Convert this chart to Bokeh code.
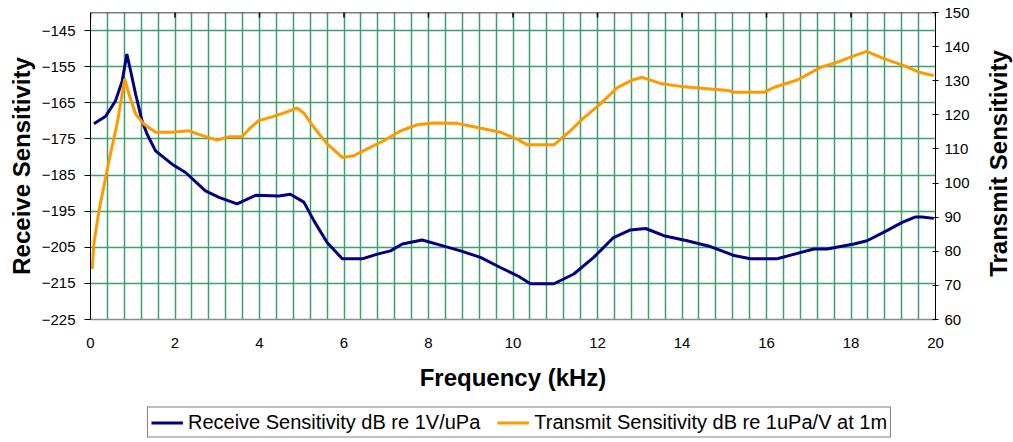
import math
from bokeh.plotting import figure
from bokeh.layouts import column, row
from bokeh.models import (Range1d, LinearAxis, FixedTicker, SingleIntervalTicker,
                          Legend, LegendItem, Label, Span)
from bokeh.embed import file_html
from bokeh.resources import INLINE

# ---- data ----
freq_rx = [0.08, 0.36, 0.59, 0.75, 0.86, 0.95, 1.07, 1.22, 1.34, 1.54, 1.93, 2.25,
           2.72, 3.04, 3.47, 3.91, 4.46, 4.73, 5.05, 5.29, 5.6, 5.96, 6.43, 6.79,
           7.1, 7.38, 7.85, 8.28, 8.76, 9.23, 9.7, 10.14, 10.41, 10.97, 11.44, 11.91,
           12.38, 12.78, 13.14, 13.57, 14.12, 14.67, 15.1, 15.23, 15.62, 16.25, 16.73,
           17.12, 17.43, 18.07, 18.38, 18.85, 19.21, 19.53, 19.68, 19.96]
rx_db = [-170.8, -168.7, -164.5, -159.0, -151.5, -156.2, -162.7, -170.0, -173.7, -178.3,
         -182.0, -184.3, -189.4, -191.2, -193.0, -190.6, -190.8, -190.3, -192.5, -197.7,
         -203.7, -208.2, -208.2, -206.9, -206.0, -204.1, -203.0, -204.4, -206.0, -207.8,
         -210.6, -213.1, -215.1, -215.1, -212.4, -207.8, -202.3, -200.2, -199.8, -201.8,
         -203.2, -204.8, -206.7, -207.3, -208.2, -208.2, -206.7, -205.5, -205.5, -204.1,
         -203.2, -200.4, -198.1, -196.6, -196.6, -197.0]

freq_tx = [0.04, 0.08, 0.2, 0.36, 0.47, 0.63, 0.75, 0.81, 0.91, 1.07, 1.26, 1.54, 1.93,
           2.33, 2.65, 3.0, 3.28, 3.59, 3.75, 3.98, 4.3, 4.62, 4.89, 5.05, 5.29, 5.6,
           5.96, 6.23, 6.55, 6.94, 7.34, 7.73, 8.12, 8.68, 9.07, 9.7, 10.14, 10.34, 10.97,
           11.32, 11.68, 12.07, 12.47, 12.82, 13.06, 13.49, 14.04, 14.52, 15.1, 15.23,
           15.94, 16.17, 16.73, 17.28, 17.67, 18.07, 18.37, 18.78, 19.25, 19.64, 19.96]
tx_db = [74.8, 82.2, 91.9, 101.7, 108.5, 117.3, 126.1, 130.5, 126.1, 120.2, 117.3, 114.9,
         114.9, 115.3, 113.9, 112.6, 113.6, 113.6, 115.8, 118.3, 119.4, 120.7, 122.0, 120.5,
         116.3, 111.5, 107.5, 108.0, 110.0, 112.4, 115.3, 117.1, 117.6, 117.5, 116.5, 114.9,
         112.6, 111.2, 111.2, 114.9, 119.2, 123.2, 128.0, 130.2, 131.0, 129.2, 128.2, 127.7,
         127.1, 126.6, 126.6, 128.0, 130.2, 133.9, 135.4, 137.3, 138.6, 136.5, 134.4, 132.4,
         131.5]

x_ticks = [0, 2, 4, 6, 8, 10, 12, 14, 16, 18, 20]
left_ticks = [-225, -215, -205, -195, -185, -175, -165, -155, -145]
right_ticks = [60, 70, 80, 90, 100, 110, 120, 130, 140, 150]

rx_label = "Receive Sensitivity dB re 1V/uPa"
tx_label = "Transmit Sensitivity dB re 1uPa/V at 1m"
x_title = "Frequency (kHz)"
left_title = "Receive Sensitivity"
right_title = "Transmit Sensitivity"

RX_COLOR = "#000080"
TX_COLOR = "#FF9900"
FONT = "Liberation Sans"
W_TOTAL, W_MAIN, H1, H2 = 1013, 975, 402, 40
FL, FR, FT, FB = 90, 935, 12, 319
LEFT_MIN, LEFT_MAX = -225, -140


def blank(fig):
    fig.outline_line_color = None
    fig.grid.grid_line_color = None
    fig.background_fill_color = "white"
    fig.border_fill_color = "white"


p = figure(width=W_MAIN, height=H1, output_backend="svg", toolbar_location=None,
           x_range=Range1d(0, 20), y_range=Range1d(LEFT_MIN, LEFT_MAX),
           min_border_left=FL, min_border_right=W_MAIN - FR,
           min_border_top=FT, min_border_bottom=H1 - FB)
p.outline_line_color = None
p.background_fill_color = "white"
p.border_fill_color = "white"
p.extra_y_ranges = {"tx": Range1d(60, 150)}

# grids
GRID = "#3f9f6e"
p.xgrid.ticker = SingleIntervalTicker(interval=0.4)
p.xgrid.grid_line_color = GRID
p.xgrid.grid_line_width = 1.5
p.ygrid.ticker = FixedTicker(ticks=left_ticks)
p.ygrid.grid_line_color = GRID
p.ygrid.grid_line_width = 1.5

# bottom axis
xa = p.xaxis[0]
xa.ticker = FixedTicker(ticks=x_ticks)
xa.axis_line_color = "#8c8c8c"
xa.axis_line_width = 1.5
xa.major_tick_out = 0
xa.major_tick_in = 0
xa.minor_tick_out = 0
xa.minor_tick_in = 0
xa.major_label_standoff = 18
xa.major_label_text_font = FONT
xa.major_label_text_font_size = "15px"
xa.major_label_text_color = "black"
xa.axis_label = x_title
xa.axis_label_text_font = FONT
xa.axis_label_text_font_size = "24px"
xa.axis_label_text_font_style = "bold"
xa.axis_label_text_color = "black"
xa.axis_label_standoff = 13

# left axis
ya = p.yaxis[0]
ya.ticker = FixedTicker(ticks=left_ticks)
ya.axis_line_color = "black"
ya.major_tick_out = 6
ya.major_tick_in = 0
ya.minor_tick_out = 0
ya.minor_tick_in = 0
ya.major_label_standoff = 9
ya.major_label_text_font = FONT
ya.major_label_text_font_size = "15px"
ya.major_label_text_color = "black"
ya.axis_label = left_title
ya.axis_label_text_font = FONT
ya.axis_label_text_font_size = "24px"
ya.axis_label_text_font_style = "bold"
ya.axis_label_text_color = "black"
ya.axis_label_standoff = 4

# right axis (values); its title sits in the narrow strip to the right
ra = LinearAxis(y_range_name="tx", ticker=FixedTicker(ticks=right_ticks),
                axis_line_color="black", major_tick_in=3, major_tick_out=3,
                minor_tick_in=0, minor_tick_out=0, major_label_standoff=6,
                major_label_text_font=FONT, major_label_text_font_size="15px",
                major_label_text_color="black")
p.add_layout(ra, "right")

# top border with inward ticks
p.add_layout(Span(location=LEFT_MAX, dimension="width", line_color="black", line_width=1.5))
tick_len = 5.0 * (LEFT_MAX - LEFT_MIN) / (FB - FT)
p.segment(x0=x_ticks, x1=x_ticks, y0=[LEFT_MAX] * len(x_ticks),
          y1=[LEFT_MAX - tick_len] * len(x_ticks), line_color="black", line_width=1.5)

p.line(freq_rx, rx_db, line_color=RX_COLOR, line_width=3)
p.line(freq_tx, tx_db, y_range_name="tx", line_color=TX_COLOR, line_width=3)

# strip with the right-hand axis title (its frame is aligned with the chart frame)
s = figure(width=W_TOTAL - W_MAIN, height=H1, output_backend="svg", toolbar_location=None,
           x_range=Range1d(0, 1), y_range=Range1d(0, 1),
           x_axis_location=None, y_axis_location=None,
           min_border_left=0, min_border_right=0, min_border_top=0, min_border_bottom=0)
blank(s)
s.add_layout(Label(x=998 - W_MAIN, y=FB - 163, x_units="screen", y_units="screen",
                   text=right_title, angle=math.pi / 2, text_align="center",
                   text_baseline="middle", text_font=FONT, text_font_size="24px",
                   text_font_style="bold", text_color="black"))

# legend strip below the chart (its lines fall outside this strip's ranges)
q = figure(width=W_TOTAL, height=H2, output_backend="svg", toolbar_location=None,
           x_range=Range1d(0, 1), y_range=Range1d(0, 1),
           x_axis_location=None, y_axis_location=None,
           min_border_left=25, min_border_right=0, min_border_top=0, min_border_bottom=0)
blank(q)
k1 = q.line(freq_rx, rx_db, line_color=RX_COLOR, line_width=3)
k2 = q.line(freq_tx, tx_db, line_color=TX_COLOR, line_width=3)
legend = Legend(items=[LegendItem(label=rx_label, renderers=[k1]),
                       LegendItem(label=tx_label, renderers=[k2])],
                orientation="horizontal", location="center",
                label_text_font=FONT, label_text_font_size="20px",
                label_text_color="black", glyph_width=32, glyph_height=16,
                label_height=16, label_standoff=5, spacing=17, padding=3, margin=0,
                border_line_color="black", border_line_width=1.5,
                background_fill_color="white", background_fill_alpha=1)
q.add_layout(legend, "center")

layout = column(row(p, s, spacing=0), q, spacing=0)
open("out.html", "w").write(file_html(layout, INLINE))
